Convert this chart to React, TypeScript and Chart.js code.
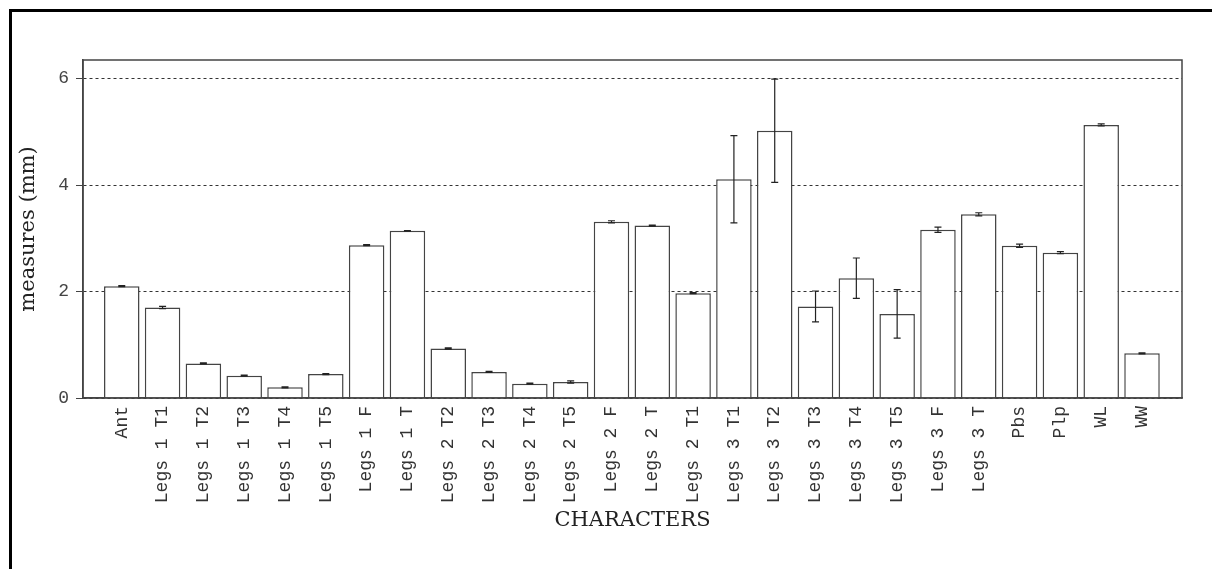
import React, { useEffect, useRef } from "react";
import { Chart, registerables } from "chart.js";

Chart.register(...registerables);

const categories = [
  "Ant", "Legs 1 T1", "Legs 1 T2", "Legs 1 T3", "Legs 1 T4", "Legs 1 T5",
  "Legs 1 F", "Legs 1 T", "Legs 2 T2", "Legs 2 T3", "Legs 2 T4", "Legs 2 T5",
  "Legs 2 F", "Legs 2 T", "Legs 2 T1", "Legs 3 T1", "Legs 3 T2", "Legs 3 T3",
  "Legs 3 T4", "Legs 3 T5", "Legs 3 F", "Legs 3 T", "Pbs", "Plp", "WL", "WW",
];
const means = [
  2.10, 1.70, 0.65, 0.42, 0.20, 0.45, 2.87, 3.14, 0.93, 0.49, 0.27, 0.30,
  3.31, 3.24, 1.97, 4.11, 5.02, 1.72, 2.25, 1.58, 3.16, 3.45, 2.86, 2.73, 5.13, 0.84,
];
const errors = [
  0.01, 0.02, 0.01, 0.01, 0.01, 0.01, 0.01, 0.005, 0.01, 0.01, 0.01, 0.02,
  0.02, 0.01, 0.01, 0.82, 0.97, 0.29, 0.38, 0.455, 0.05, 0.03, 0.03, 0.02, 0.02, 0.01,
];
const yTickValues = [0, 2, 4, 6];
const yTitle = "measures (mm)";
const xTitle = "CHARACTERS";

const W = 1212;
const H = 569;

const frameAndErrors = {
  id: "frameAndErrors",
  afterDatasetsDraw(chart: any) {
    const { ctx, chartArea, scales } = chart;
    const meta = chart.getDatasetMeta(0);
    ctx.save();
    ctx.strokeStyle = "#222";
    ctx.lineWidth = 1.2;
    meta.data.forEach((el: any, i: number) => {
      const x = el.x;
      const yTop = scales.y.getPixelForValue(means[i] + errors[i]);
      const yBot = scales.y.getPixelForValue(means[i] - errors[i]);
      ctx.beginPath();
      ctx.moveTo(x, yTop);
      ctx.lineTo(x, yBot);
      ctx.moveTo(x - 3.5, yTop);
      ctx.lineTo(x + 3.5, yTop);
      ctx.moveTo(x - 3.5, yBot);
      ctx.lineTo(x + 3.5, yBot);
      ctx.stroke();
    });
    ctx.strokeStyle = "#444";
    ctx.lineWidth = 1.5;
    ctx.strokeRect(chartArea.left, chartArea.top, chartArea.right - chartArea.left, chartArea.bottom - chartArea.top);
    ctx.restore();
  },
};

export default function App() {
  const ref = useRef<HTMLCanvasElement>(null);
  useEffect(() => {
    if (!ref.current) return;
    const chart = new Chart(ref.current, {
      type: "bar",
      data: {
        datasets: [
          {
            data: means.map((v, i) => ({ x: i + 1, y: v })),
            backgroundColor: "#ffffff",
            borderColor: "#444",
            borderWidth: 1.5,
            barPercentage: 0.87,
            categoryPercentage: 1,
          },
        ],
      },
      options: {
        responsive: false,
        animation: false,
        layout: { padding: { top: 60, right: 30, left: 0, bottom: 0 } },
        plugins: { legend: { display: false }, tooltip: { enabled: false } },
        scales: {
          x: {
            type: "linear",
            offset: false,
            min: 0.05,
            max: 26.98,
            afterFit: (s: any) => { s.height = H - 398; },
            grid: { display: false, drawTicks: false, offset: false },
            border: { display: true, color: "#444", width: 1.5 },
            ticks: {
              stepSize: 1,
              includeBounds: false,
              autoSkip: false,
              minRotation: 90,
              maxRotation: 90,
              padding: 8,
              color: "#333",
              font: { family: "'Liberation Mono', 'Courier New', monospace", size: 18 },
              callback: (v: any) => (Number.isInteger(v) && categories[v - 1]) ? categories[v - 1] : "",
            },
            title: {
              display: true,
              text: xTitle,
              color: "#222",
              font: { family: "'DejaVu Serif', serif", size: 21 },
              padding: { top: 0, bottom: 36 },
            },
          },
          y: {
            min: 0,
            max: 6.35,
            afterFit: (s: any) => { s.width = 83; },
            afterBuildTicks: (s: any) => { s.ticks = yTickValues.map((v) => ({ value: v })); },
            grid: {
              color: "#333",
              lineWidth: 1,
              tickLength: 7,
              tickColor: "#444",
              tickBorderDash: [],
            } as any,
            border: { display: true, color: "#444", width: 1.5, dash: [3, 3] },
            ticks: {
              stepSize: 2,
              includeBounds: false,
              padding: 7,
              color: "#444",
              font: { family: "'Liberation Mono', 'Courier New', monospace", size: 18 },
            },
            title: {
              display: true,
              text: yTitle,
              color: "#222",
              font: { family: "'DejaVu Serif', serif", size: 21 },
              padding: { top: 16, bottom: 0 },
            },
          },
        },
      },
      plugins: [frameAndErrors],
    } as any);
    return () => chart.destroy();
  }, []);
  return (
    <div style={{ position: "fixed", left: 0, top: 0, width: W, height: H, overflow: "hidden", background: "#fff" }}>
      <div style={{ position: "absolute", left: 9, top: 9, width: 3000, height: 3000, borderLeft: "3px solid #000", borderTop: "3px solid #000" }} />
      <canvas ref={ref} width={W} height={H} style={{ position: "absolute", left: 0, top: 0, display: "block" }} />
    </div>
  );
}
